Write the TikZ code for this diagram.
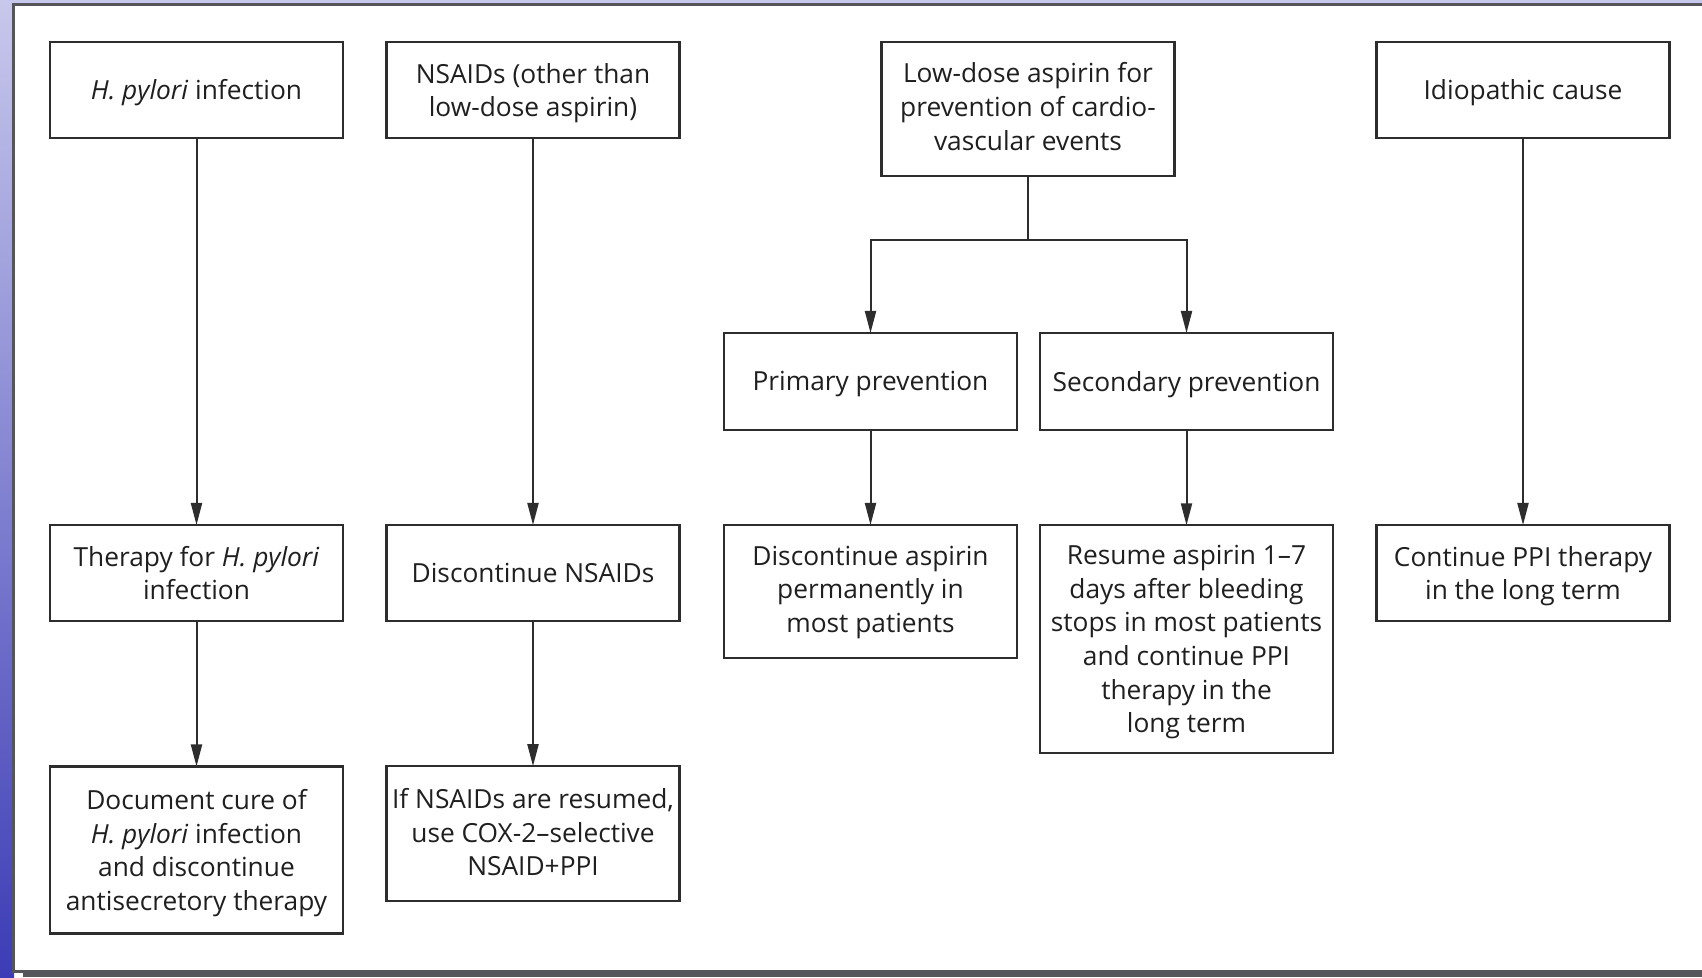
\documentclass[tikz,border=0pt]{standalone}
\usepackage{fontspec}
\setmainfont{Open Sans}
\usetikzlibrary{arrows.meta}
\definecolor{frameg}{RGB}{85,85,90}
\definecolor{boxline}{RGB}{45,45,45}
\definecolor{bgtop}{RGB}{200,200,236}
\definecolor{bgbot}{RGB}{60,60,182}
\tikzset{
  box/.style={draw=boxline, line width=2.4pt, fill=white, minimum width=293pt, inner sep=0pt, outer sep=0pt},
  txt/.style={align=center, inner sep=0pt, yshift=-3pt, font=\fontsize{26.3}{33.6}\selectfont, text=black!88},
  arr/.style={draw=boxline, line width=2pt, -{Triangle[length=22pt,width=11pt]}},
  ln/.style={draw=boxline, line width=2pt}
}
\begin{document}
\begin{tikzpicture}[x=1pt,y=1pt]
\useasboundingbox (0,0) rectangle (1702,977);
% background
\shade[top color=bgtop, bottom color=bgbot] (0,0) rectangle (14,977);
\fill[bgtop] (14,972) rectangle (1702,977);
\fill[frameg] (23,0) rectangle (1702,5);
\fill[white] (12.5,5) rectangle (1702,972);
\draw[frameg, line width=3pt] (1710,972.5) -- (13.5,972.5) -- (13.5,5.5) -- (1710,5.5);
% row 1
\node[box, minimum height=96pt, label={[txt]center:{\textit{H. pylori} infection}}] (A1) at (196.5,887) {};
\node[box, minimum height=96pt, label={[txt]center:{NSAIDs (other than\\low-dose aspirin)}}] (B1) at (533,887) {};
\node[box, minimum height=134pt, label={[txt, yshift=5.5pt]center:{Low-dose aspirin for\\prevention of cardio-\\vascular events}}] (C1) at (1028,868) {};
\node[box, minimum height=96pt, label={[txt]center:{Idiopathic cause}}] (D1) at (1523,887) {};
% row 2
\node[box, minimum height=97pt, label={[txt]center:{Primary prevention}}] (P) at (870.5,595.5) {};
\node[box, minimum height=97pt, label={[txt]center:{Secondary prevention}}] (S) at (1186.5,595.5) {};
% row 3
\node[box, minimum height=96pt, label={[txt, yshift=3pt]center:{Therapy for \textit{H. pylori}\\infection}}] (A3) at (196.5,404) {};
\node[box, minimum height=96pt, label={[txt, yshift=3pt]center:{Discontinue NSAIDs}}] (B3) at (533,404) {};
\node[box, minimum height=133pt, label={[txt, yshift=2pt]center:{Discontinue aspirin\\permanently in\\most patients}}] (P3) at (870.5,385.5) {};
\node[box, minimum height=228pt, label={[txt]center:{Resume aspirin 1--7\\days after bleeding\\stops in most patients\\and continue PPI\\therapy in the\\long term}}] (S3) at (1186.5,337.7) {};
\node[box, minimum height=96pt, label={[txt]center:{Continue PPI therapy\\in the long term}}] (D3) at (1523,404) {};
% row 4
\node[box, minimum height=167pt, label={[txt]center:{Document cure of\\\textit{H. pylori} infection\\and discontinue\\antisecretory therapy}}] (A4) at (196.5,127) {};
\node[box, minimum height=135pt, label={[txt, yshift=4.3pt]center:{If NSAIDs are resumed,\\use COX-2--selective\\NSAID+PPI}}] (B4) at (533,143.3) {};
% connectors
\draw[arr] (A1) -- (A3);
\draw[arr] (A3) -- (A4);
\draw[arr] (B1) -- (B3);
\draw[arr] (B3) -- (B4);
\draw[arr] (D1) -- (D3);
\coordinate (jn) at (1028,737);
\draw[ln] (C1.south) -- (jn);
\draw[arr] (jn) -| (P.north);
\draw[arr] (jn) -| (S.north);
\draw[arr] (P) -- (P3);
\draw[arr] (S) -- (S3);
\end{tikzpicture}
\end{document}
